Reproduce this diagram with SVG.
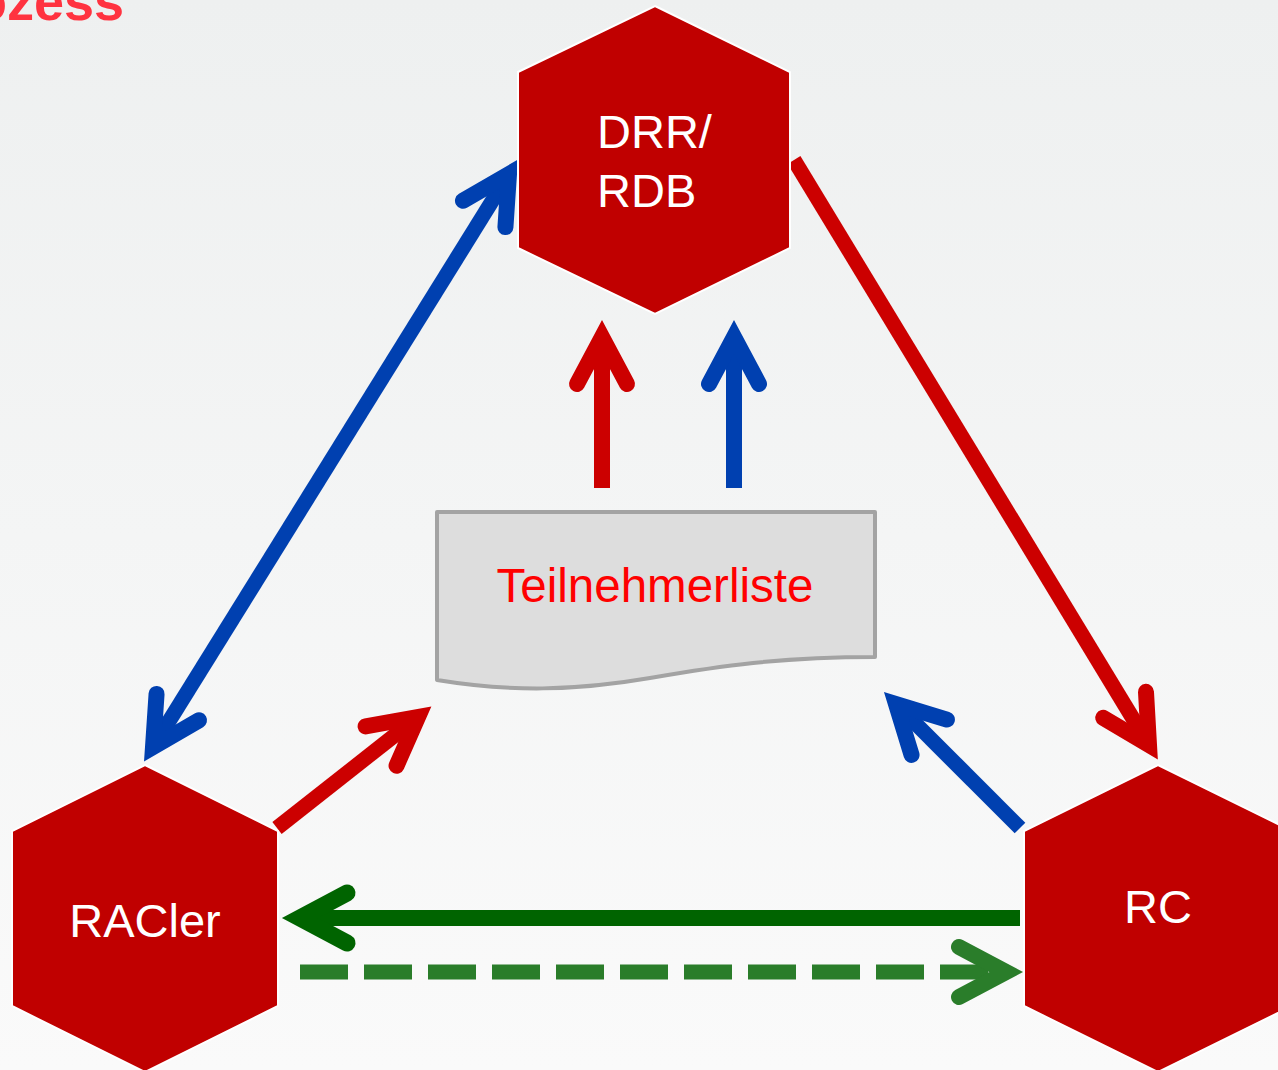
<svg xmlns="http://www.w3.org/2000/svg" width="1278" height="1070" viewBox="0 0 1278 1070">
<style>
.hex{fill:#c00000;stroke:#ffffff;stroke-width:2}
.lbl{font-family:"Liberation Sans",Arial,sans-serif;font-size:47px;fill:#ffffff}
.ln{fill:none;stroke-linecap:butt}
.red{stroke:#cc0000}
.blue{stroke:#0040b0}
.dgreen{stroke:#006400}
.lgreen{stroke:#2a7d2a}
</style>
<defs>
<linearGradient id="bg" x1="0" y1="0" x2="0" y2="1">
<stop offset="0" stop-color="#eef0f0"/>
<stop offset="1" stop-color="#fafafa"/>
</linearGradient>
<marker id="mRed" markerUnits="userSpaceOnUse" orient="auto" overflow="visible" markerWidth="1" markerHeight="1">
<path d="M-47,-25 L0,0 L-47,25" fill="none" stroke="#cc0000" stroke-width="16" stroke-linecap="round" stroke-linejoin="miter"/>
</marker>
<marker id="mBlue" markerUnits="userSpaceOnUse" orient="auto-start-reverse" overflow="visible" markerWidth="1" markerHeight="1">
<path d="M-47,-25 L0,0 L-47,25" fill="none" stroke="#0040b0" stroke-width="16" stroke-linecap="round" stroke-linejoin="miter"/>
</marker>
<marker id="mDGreen" markerUnits="userSpaceOnUse" orient="auto" overflow="visible" markerWidth="1" markerHeight="1">
<path d="M-47,-25 L0,0 L-47,25" fill="none" stroke="#006400" stroke-width="17" stroke-linecap="round" stroke-linejoin="miter"/>
</marker>
<marker id="mLGreen" markerUnits="userSpaceOnUse" orient="auto" overflow="visible" markerWidth="1" markerHeight="1">
<path d="M-47,-25 L0,0 L-47,25" fill="none" stroke="#2a7d2a" stroke-width="16" stroke-linecap="round" stroke-linejoin="miter"/>
</marker>
</defs>
<rect x="0" y="0" width="1278" height="1070" fill="url(#bg)"/>
<text x="124" y="20" text-anchor="end" font-family="Liberation Sans,Arial,sans-serif" font-weight="bold" font-size="54" fill="#ff3340">ozess</text>

<g id="connectors">
<line class="ln blue" stroke-width="15" x1="153" y1="747" x2="509" y2="174" marker-start="url(#mBlue)" marker-end="url(#mBlue)"/>
<line class="ln red" stroke-width="15" x1="794" y1="160" x2="1149" y2="745" marker-end="url(#mRed)"/>
<line class="ln red" stroke-width="16" x1="602" y1="488" x2="602" y2="337" marker-end="url(#mRed)"/>
<line class="ln blue" stroke-width="16" x1="734" y1="488" x2="734" y2="337" marker-end="url(#mBlue)"/>
<line class="ln red" stroke-width="15" x1="277" y1="828" x2="418" y2="717" marker-end="url(#mRed)"/>
<line class="ln blue" stroke-width="15" x1="1020" y1="828" x2="896" y2="704" marker-end="url(#mBlue)"/>
<line class="ln dgreen" stroke-width="16" x1="1020" y1="918" x2="300" y2="918" marker-end="url(#mDGreen)"/>
<line class="ln lgreen" stroke-width="15" stroke-dasharray="48 16" x1="300" y1="972" x2="1006" y2="972" marker-end="url(#mLGreen)"/>
</g>

<g id="node-drr">
<polygon class="hex" points="655,6 790,72 790,248 655,314 518,248 518,72"/>
<text class="lbl" x="597" y="148">DRR/</text>
<text class="lbl" x="597" y="207">RDB</text>
</g>

<g id="node-liste">
<path d="M437,512 H875 V657 C780,657 720,666 650,678 C575,691 510,692 437,680 Z" fill="#dddddd" stroke="#a3a3a3" stroke-width="4" stroke-linejoin="round"/>
<text x="655" y="602" text-anchor="middle" font-family="Liberation Sans,Arial,sans-serif" font-size="47.5" fill="#ff0000">Teilnehmerliste</text>
</g>

<g id="node-racler">
<polygon class="hex" points="145,765 278,831 278,1006 145,1072 12,1006 12,831"/>
<text class="lbl" x="145" y="937" text-anchor="middle">RACler</text>
</g>

<g id="node-rc">
<polygon class="hex" points="1158,765 1292,831 1292,1006 1158,1072 1024,1006 1024,831"/>
<text class="lbl" x="1158" y="923" text-anchor="middle">RC</text>
</g>
</svg>
